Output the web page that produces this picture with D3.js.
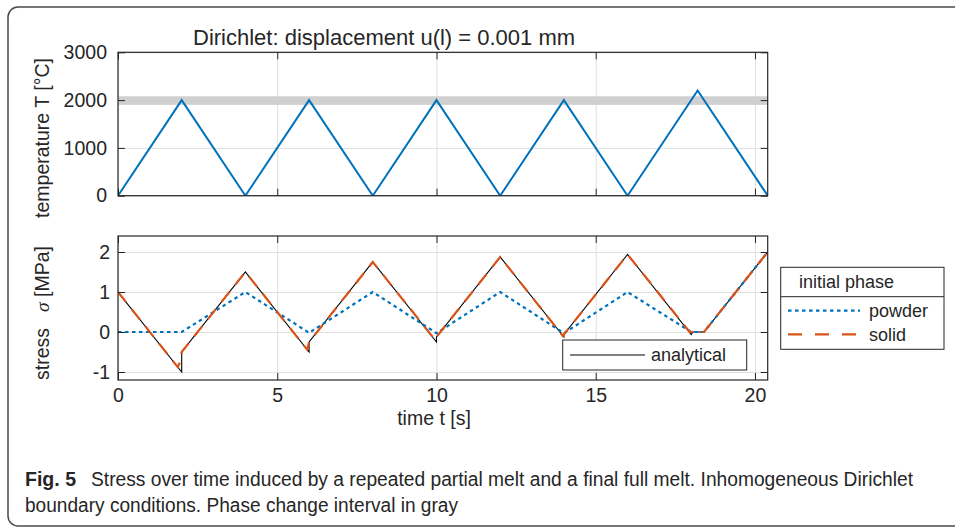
<!DOCTYPE html>
<html>
<head>
<meta charset="utf-8">
<script src="https://cdn.jsdelivr.net/npm/d3@7"></script>
<style>
  body { margin: 0; background: #fff; }
  svg { display: block; }
  text { font-family: "Liberation Sans", Arial, sans-serif; fill: #262626; }
</style>
</head>
<body>
<div id="chart"></div>
<script>
// temperature over time (top panel)
const tempTime = [0, 2, 4, 6, 8, 10, 12, 14, 16, 18.2, 20.4];
const tempVal  = [0, 2000, 0, 2000, 0, 2000, 0, 2000, 0, 2200, 0];
const phaseBand = [1900, 2080];   // phase change interval [°C]

// stress over time (bottom panel)
const anTime = [0, 2, 2, 4, 6, 6, 8, 10, 10, 12, 14, 14, 16, 18, 18.05, 18.4, 20.4];
const anVal  = [1, -1, -0.5, 1.5, -0.5, -0.25, 1.75, -0.25, -0.125, 1.875, -0.125, -0.0625, 1.9375, -0.0625, 0, 0, 2];

const powderTime = [0, 2, 4, 6, 8, 10, 12, 14, 16, 18, 18.4, 20.4];
const powderVal  = [0, 0, 1, -0.02, 1, -0.03, 1, -0.03, 1, 0, 0, 2];

const solidTime = [0, 1.88, 1.96, 2, 4, 5.94, 6, 8, 9.96, 10, 12, 13.97, 14, 16, 17.95, 18.4, 20.4];
const solidVal  = [1, -0.88, -0.72, -0.5, 1.5, -0.44, -0.25, 1.75, -0.2, -0.125, 1.875, -0.1, -0.0625, 1.9375, 0, 0, 2];

const xTicks = [0, 5, 10, 15, 20];
const tempTicks = [0, 1000, 2000, 3000];
const stressTicks = [-1, 0, 1, 2];

const W = 955, H = 527;
const svg = d3.select("#chart").append("svg").attr("width", W).attr("height", H);

// figure frame
svg.append("rect")
    .attr("x", 8).attr("y", 7).attr("width", 1000).attr("height", 519)
    .attr("rx", 10)
    .attr("fill", "none").attr("stroke", "#4a4a4a").attr("stroke-width", 1.5);

const left = 118, right = 767.7;
const x = d3.scaleLinear().domain([0, 20.4]).range([left, right]);
const yT = d3.scaleLinear().domain([0, 3000]).range([195.7, 52.3]);
const yB = d3.scaleLinear().domain([-1.2, 2.4]).range([380, 236]);

const blue = "#0072BD", orange = "#D95319";
const plainNum = d => String(d);   // hyphen minus like MATLAB

function drawAxes(y, yTicks, clipId) {
    const [y0, y1] = y.range();
    const g = svg.append("g");

    g.append("clipPath").attr("id", clipId)
      .append("rect").attr("x", left).attr("y", y1).attr("width", right - left).attr("height", y0 - y1);

    // grid
    g.append("g").attr("transform", "translate(0," + y0 + ")")
        .call(d3.axisBottom(x).tickValues(xTicks).tickSize(-(y0 - y1)).tickFormat(""))
        .call(s => s.select(".domain").remove())
        .selectAll("line").attr("stroke", "#dfdfdf");
    g.append("g").attr("transform", "translate(" + left + ",0)")
        .call(d3.axisLeft(y).tickValues(yTicks).tickSize(-(right - left)).tickFormat(""))
        .call(s => s.select(".domain").remove())
        .selectAll("line").attr("stroke", "#dfdfdf");
    return g;
}

function drawFrame(g, y, yTicks, showX, yPad) {
    const [y0, y1] = y.range();
    const tk = 7;
    const bottom = g.append("g").attr("transform", "translate(0," + y0 + ")")
        .call(d3.axisBottom(x).tickValues(xTicks).tickSize(-tk).tickPadding(8)
            .tickFormat(showX ? plainNum : ""));
    const top = g.append("g").attr("transform", "translate(0," + y1 + ")")
        .call(d3.axisTop(x).tickValues(xTicks).tickSize(-tk).tickFormat(""));
    const l = g.append("g").attr("transform", "translate(" + left + ",0)")
        .call(d3.axisLeft(y).tickValues(yTicks).tickSize(-tk).tickPadding(yPad).tickFormat(plainNum));
    const r = g.append("g").attr("transform", "translate(" + right + ",0)")
        .call(d3.axisRight(y).tickValues(yTicks).tickSize(-tk).tickFormat(""));
    [bottom, top, l, r].forEach(a => {
        a.select(".domain").remove();
        a.selectAll("line").attr("stroke", "#262626").attr("stroke-width", 1);
        a.selectAll("text").attr("font-size", "19.5px").attr("fill", "#262626")
            .attr("font-family", "'Liberation Sans', Arial, sans-serif");
    });
    g.append("rect").attr("x", left).attr("y", y1).attr("width", right - left).attr("height", y0 - y1)
        .attr("fill", "none").attr("stroke", "#262626").attr("stroke-width", 1.2);
}

// ---------- top panel ----------
const gT = drawAxes(yT, tempTicks, "clipT");
gT.append("rect")
    .attr("x", left).attr("width", right - left)
    .attr("y", yT(phaseBand[1])).attr("height", yT(phaseBand[0]) - yT(phaseBand[1]))
    .attr("fill", "#d0d0d0");

const tempData = tempTime.map((t, i) => [t, tempVal[i]]);
gT.append("path")
    .datum(tempData)
    .attr("clip-path", "url(#clipT)")
    .attr("fill", "none").attr("stroke", blue).attr("stroke-width", 2)
    .attr("d", d3.line().x(d => x(d[0])).y(d => yT(d[1])));
drawFrame(gT, yT, tempTicks, false, 11);

// ---------- bottom panel ----------
const gB = drawAxes(yB, stressTicks, "clipB");
const lineB = d3.line().x(d => x(d[0])).y(d => yB(d[1]));

gB.append("path")
    .datum(anTime.map((t, i) => [t, anVal[i]]))
    .attr("clip-path", "url(#clipB)")
    .attr("fill", "none").attr("stroke", "#000").attr("stroke-width", 1.1)
    .attr("d", lineB);
gB.append("path")
    .datum(powderTime.map((t, i) => [t, powderVal[i]]))
    .attr("clip-path", "url(#clipB)")
    .attr("fill", "none").attr("stroke", blue).attr("stroke-width", 2.2)
    .attr("stroke-dasharray", "3.5,3.5")
    .attr("d", lineB);
gB.append("path")
    .datum(solidTime.map((t, i) => [t, solidVal[i]]))
    .attr("clip-path", "url(#clipB)")
    .attr("fill", "none").attr("stroke", orange).attr("stroke-width", 2.2)
    .attr("stroke-dasharray", "13,9")
    .attr("d", lineB);
drawFrame(gB, yB, stressTicks, true, 8);

// ---------- titles and labels ----------
svg.append("text")
    .attr("x", 193).attr("y", 44.5)
    .attr("font-size", "22px")
    .text("Dirichlet: displacement u(l) = 0.001 mm");

svg.append("text")
    .attr("transform", "translate(49,138) rotate(-90)")
    .attr("text-anchor", "middle")
    .attr("font-size", "19.5px")
    .text("temperature T [°C]");

const sl = svg.append("text")
    .attr("transform", "translate(49,313) rotate(-90)")
    .attr("text-anchor", "middle")
    .attr("font-size", "19.5px");
sl.append("tspan").text("stress");
sl.append("tspan").attr("dx", 16)
    .attr("font-family", "'Liberation Serif', 'DejaVu Serif', serif")
    .attr("font-style", "italic").text("σ");
sl.append("tspan").text(" [MPa]");

svg.append("text")
    .attr("x", 434).attr("y", 425)
    .attr("text-anchor", "middle")
    .attr("font-size", "19.5px")
    .text("time t [s]");

// ---------- legends ----------
const lg1 = svg.append("g");
lg1.append("rect").attr("x", 562.7).attr("y", 340).attr("width", 184).attr("height", 30)
    .attr("fill", "#fff").attr("stroke", "#262626").attr("stroke-width", 1);
lg1.append("line").attr("x1", 570).attr("x2", 645).attr("y1", 355).attr("y2", 355)
    .attr("stroke", "#000").attr("stroke-width", 1.1);
lg1.append("text").attr("x", 651).attr("y", 355).attr("dy", "0.35em")
    .attr("font-size", "18px").text("analytical");

const lg2 = svg.append("g");
lg2.append("rect").attr("x", 780.7).attr("y", 267.3).attr("width", 163.3).attr("height", 82)
    .attr("fill", "#fff").attr("stroke", "#262626").attr("stroke-width", 1);
lg2.append("line").attr("x1", 780.7).attr("x2", 944).attr("y1", 296.7).attr("y2", 296.7)
    .attr("stroke", "#262626").attr("stroke-width", 1);
lg2.append("text").attr("x", 799).attr("y", 282).attr("dy", "0.35em")
    .attr("font-size", "18px").text("initial phase");
const legendItems = [
    {name: "powder", color: blue, dash: "3.5,3.5", y: 310.7},
    {name: "solid", color: orange, dash: "14,13", y: 334.3}
];
legendItems.forEach(it => {
    lg2.append("line").attr("x1", 788).attr("x2", 860).attr("y1", it.y).attr("y2", it.y)
        .attr("stroke", it.color).attr("stroke-width", 2.2).attr("stroke-dasharray", it.dash);
    lg2.append("text").attr("x", 869).attr("y", it.y).attr("dy", "0.35em")
        .attr("font-size", "18px").text(it.name);
});

// ---------- caption ----------
const capFont = "'Open Sans', 'Noto Sans', sans-serif";
svg.append("text").attr("x", 25).attr("y", 486)
    .attr("font-family", capFont).attr("font-weight", "bold").attr("font-size", "20px")
    .attr("fill", "#231f20")
    .attr("textLength", 51).attr("lengthAdjust", "spacingAndGlyphs")
    .text("Fig. 5");
svg.append("text").attr("x", 91).attr("y", 486)
    .attr("font-family", capFont).attr("font-size", "20px").attr("fill", "#3a3a3a")
    .attr("textLength", 822).attr("lengthAdjust", "spacingAndGlyphs")
    .text("Stress over time induced by a repeated partial melt and a final full melt. Inhomogeneous Dirichlet");
svg.append("text").attr("x", 25).attr("y", 512)
    .attr("font-family", capFont).attr("font-size", "20px").attr("fill", "#3a3a3a")
    .attr("textLength", 433).attr("lengthAdjust", "spacingAndGlyphs")
    .text("boundary conditions. Phase change interval in gray");
</script>
</body>
</html>
